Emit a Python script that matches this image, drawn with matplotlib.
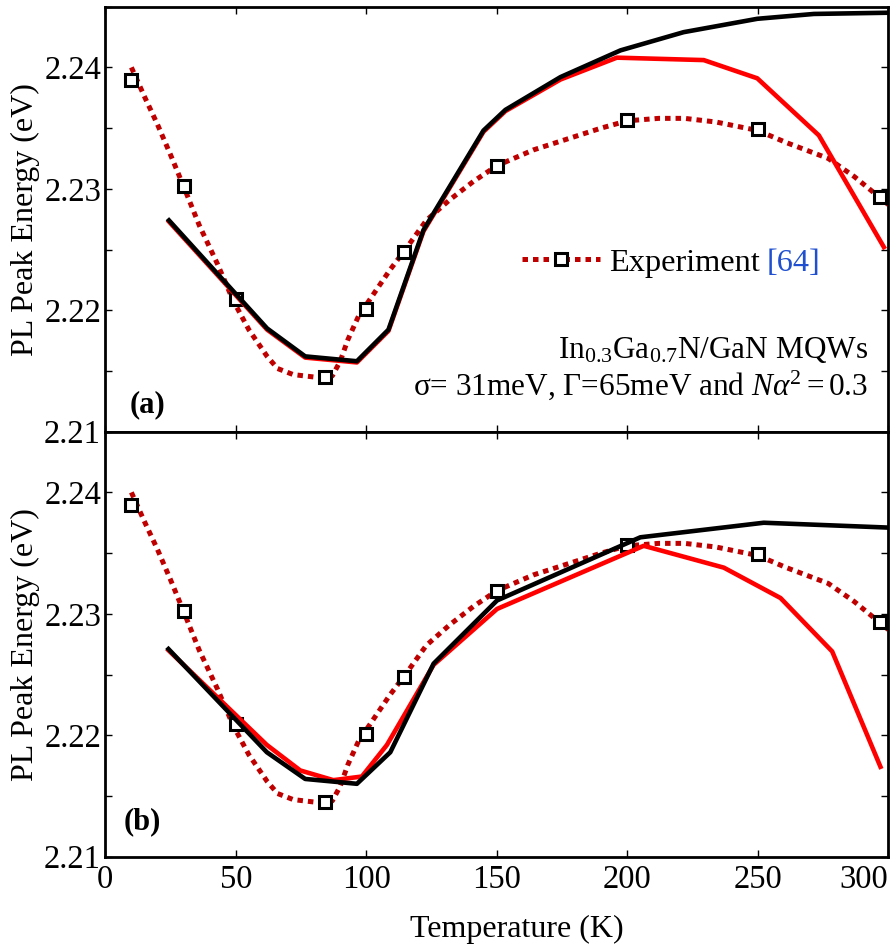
import matplotlib
matplotlib.use("Agg")
import matplotlib.pyplot as plt
from matplotlib.ticker import MultipleLocator, FormatStrFormatter

plt.rcParams.update({
    "font.family": ["Liberation Serif", "DejaVu Serif"],
    "mathtext.fontset": "custom",
    "mathtext.rm": "Liberation Serif",
    "mathtext.it": "Liberation Serif:italic",
    "mathtext.bf": "Liberation Serif:bold",
    "font.size": 23,
})

# Measured PL peak energies (squares)
exp_T = [10, 30, 50, 84, 100, 114.5, 150, 200, 250, 297]
exp_E = [2.2390, 2.2302, 2.2209, 2.2145, 2.2201, 2.2248, 2.2319, 2.2357, 2.2349, 2.2293]

# Smooth guide through the measured points (dotted)
fit_T = [10, 15, 20, 25, 30, 36, 43, 49, 55, 62, 66, 72, 80, 87, 90, 93, 97, 103,
         109, 116, 123, 132, 141, 150, 164, 177, 190, 200, 212, 222, 234, 250,
         261, 277, 287, 300]
fit_E = [2.2400, 2.2376, 2.2353, 2.2328, 2.2302, 2.2270, 2.2238, 2.2208, 2.2184,
         2.2162, 2.2152, 2.2147, 2.2145, 2.2146, 2.2158, 2.2176, 2.2195, 2.2214,
         2.2233, 2.2253, 2.2274, 2.2291, 2.2306, 2.2319, 2.2332, 2.2341, 2.2350,
         2.2356, 2.2358, 2.2358, 2.2355, 2.2348, 2.2338, 2.2325, 2.2310, 2.2287]

# Panel (a): model curves
a_black_T = [24.4, 62, 76.6, 96.4, 108.5, 121.9, 144.9, 153.3, 174.4, 197.4, 221.6,
             249.8, 271.5, 300]
a_black_E = [2.2274, 2.2185, 2.2162, 2.2158, 2.2184, 2.2266, 2.2348, 2.2365, 2.2392,
             2.2414, 2.2429, 2.2440, 2.2444, 2.2445]
a_red_T = [24.4, 62, 76.6, 96.4, 108.5, 121.9, 144.9, 153.3, 174.4, 196, 229.3,
           249.8, 273.4, 298.3]
a_red_E = [2.2273, 2.2184, 2.2161, 2.2157, 2.2183, 2.2265, 2.2347, 2.2364, 2.2390,
           2.2408, 2.2406, 2.2391, 2.2344, 2.2252]

# Panel (b): model curves
b_black_T = [24.2, 61.9, 76.6, 96.4, 109.2, 125.8, 150.1, 205, 252.3, 300]
b_black_E = [2.2271, 2.2186, 2.2164, 2.2160, 2.2186, 2.2259, 2.2311, 2.2363, 2.2375,
             2.2371]
b_red_T = [24.2, 61.9, 74.7, 87.4, 98.3, 107.9, 125.8, 150.1, 206.3, 237, 258.7,
           278.5, 297]
b_red_E = [2.2270, 2.2192, 2.2171, 2.2163, 2.2166, 2.2192, 2.2258, 2.2304, 2.2356,
           2.2338, 2.2313, 2.2269, 2.2174]

x_ticks = [0, 50, 100, 150, 200, 250, 300]

DARK_RED = "#BF0000"
RED = "#FF0000"

fig = plt.figure(figsize=(8.96, 9.51), dpi=100)
ax_a = fig.add_axes([0.1175, 0.5461, 0.8739, 0.4469])
ax_b = fig.add_axes([0.1175, 0.0992, 0.8739, 0.4469])


def draw_panel(ax, black_T, black_E, red_T, red_E):
    fit_line, = ax.plot(fit_T, fit_E, color=DARK_RED, lw=3.6,
                        linestyle=(0, (1.1, 1.0)), dash_capstyle="butt", zorder=2)
    squares, = ax.plot(exp_T, exp_E, linestyle="none", marker="s", ms=8.5,
                       mfc="white", mec="black", mew=2.2, zorder=3)
    ax.plot(red_T, red_E, color=RED, lw=3.3, zorder=4)
    ax.plot(black_T, black_E, color="black", lw=3.3, zorder=5)

    ax.set_xlim(0, 300)
    ax.set_ylim(2.21, 2.245)
    ax.set_xticks(x_ticks)
    ax.yaxis.set_major_locator(MultipleLocator(0.01))
    ax.yaxis.set_minor_locator(MultipleLocator(0.005))
    ax.yaxis.set_major_formatter(FormatStrFormatter("%.2f"))
    ax.tick_params(which="both", direction="in", top=True, right=True,
                   length=5, width=1, labelsize=23.5)
    ax.tick_params(axis="y", pad=3)
    ax.tick_params(axis="x", pad=6)
    for s in ax.spines.values():
        s.set_linewidth(2)
    ax.set_ylabel("PL Peak Energy (eV)", fontsize=23)
    ax.yaxis.set_label_coords(-0.084, 0.5)
    return fit_line, squares


handles_a = draw_panel(ax_a, a_black_T, a_black_E, a_red_T, a_red_E)
draw_panel(ax_b, b_black_T, b_black_E, b_red_T, b_red_E)

ax_a.tick_params(axis="x", labelbottom=False)
ax_b.set_xlabel("Temperature (K)", fontsize=23)
ax_b.xaxis.set_label_coords(0.525, -0.138)
ax_b.get_xticklabels()[-1].set_horizontalalignment("right")

# Legend for the measured data
leg = ax_a.legend([tuple(handles_a)], ["Experiment"], loc="center left",
                  bbox_to_anchor=(0.532, 0.397), frameon=False, numpoints=1,
                  handlelength=2.4, handletextpad=0.3, borderpad=0,
                  borderaxespad=0, fontsize=23.3)

ax_a.text(0.974, 0.1734, "In$_{0.3}$Ga$_{0.7}$N/GaN MQWs", transform=ax_a.transAxes,
          ha="right", va="baseline", fontsize=22.5)
ax_a.text(0.974, 0.0864, "σ= 31meV, Γ=65meV and $N\\alpha^2 = 0.3$",
          transform=ax_a.transAxes, ha="right", va="baseline", fontsize=22.5)

ax_a.text(0.0315, 0.046, "(a)", transform=ax_a.transAxes, ha="left", va="baseline",
          fontsize=22, fontweight="bold")
ax_b.text(0.023, 0.065, "(b)", transform=ax_b.transAxes, ha="left", va="baseline",
          fontsize=22, fontweight="bold")

# Citation in blue, placed right after the legend label
fig.canvas.draw()
lbl = leg.get_texts()[0]
bb = lbl.get_window_extent()
cx, cy = ax_a.transAxes.inverted().transform((bb.x1 + 7, bb.y0))
ax_a.text(cx, cy, "[64]", transform=ax_a.transAxes, ha="left", va="bottom",
          color="#2050D0", fontsize=23.3)

fig.savefig("out.png", dpi=100)
